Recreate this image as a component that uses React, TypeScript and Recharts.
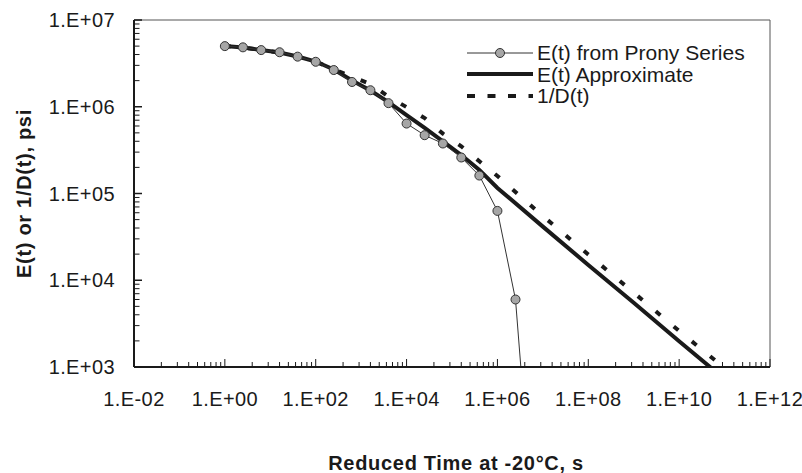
import React from 'react';
import { LineChart, Line, XAxis, YAxis, ReferenceArea, Legend } from 'recharts';

// reduced time (s) and modulus (psi)
const PRONY_T = [1, 2.5, 6.3, 16, 40, 100, 250, 630, 1600, 4000, 1e4, 2.5e4, 6.3e4, 1.6e5, 4e5, 1e6, 2.5e6, 6.3e6];
const PRONY_E = [5.0e6, 4.84e6, 4.5e6, 4.25e6, 3.78e6, 3.3e6, 2.65e6, 1.93e6, 1.55e6, 1.1e6, 6.4e5, 4.7e5, 3.77e5, 2.6e5, 1.61e5, 6.3e4, 6.0e3, 13];

const APPROX_T = [1, 2.5, 6.3, 16, 40, 100, 250, 630, 1600, 4000, 1e4, 2.5e4, 6.3e4, 1.6e5, 4e5, 1e6, 1e7, 1e8, 1e9, 1e10, 5.8e10];
const APPROX_E = [5.01e6, 4.82e6, 4.51e6, 4.22e6, 3.79e6, 3.32e6, 2.69e6, 2.01e6, 1.54e6, 1.13e6, 8.0e5, 5.7e5, 4.0e5, 2.78e5, 1.87e5, 1.16e5, 4.15e4, 1.5e4, 5.5e3, 1.98e3, 920];

const INV_T = [1, 2.5, 6.3, 16, 40, 100, 250, 630, 1600, 4000, 1e4, 2.5e4, 6.3e4, 1.6e5, 4e5, 1e6, 1e7, 1e8, 1e9, 1e10, 6.9e10];
const INV_D = [5.01e6, 4.82e6, 4.51e6, 4.22e6, 3.79e6, 3.32e6, 2.69e6, 2.22e6, 1.83e6, 1.31e6, 9.9e5, 7.4e5, 4.9e5, 3.5e5, 2.35e5, 1.59e5, 5.5e4, 1.98e4, 7.2e3, 2.6e3, 1.14e3];

const X_MAJOR = [1e-2, 1, 1e2, 1e4, 1e6, 1e8, 1e10, 1e12];
const X_MINOR_MULT = [4, 9, 16, 25, 36, 49, 64, 81];
const Y_MAJOR = [1e3, 1e4, 1e5, 1e6, 1e7];
const Y_MINOR_MULT = [2, 3, 4, 5, 6, 7, 8, 9];

const LEGEND_ITEMS = [
  { name: 'E(t) from Prony Series', kind: 'prony' },
  { name: 'E(t) Approximate', kind: 'approx' },
  { name: '1/D(t)', kind: 'inv' },
];

const FONT = '"Liberation Sans", Arial, Helvetica, sans-serif';
const INK = '#1a1a1a';

const prony = PRONY_T.map((t, i) => ({ t, e: PRONY_E[i] }));
const approx = APPROX_T.map((t, i) => ({ t, e: APPROX_E[i] }));
const inv = INV_T.map((t, i) => ({ t, e: INV_D[i] }));

const xTicks = [
  ...X_MAJOR,
  ...X_MAJOR.slice(0, -1).flatMap((b) => X_MINOR_MULT.map((m) => b * m)),
];
const yTicks = [
  ...Y_MAJOR,
  ...Y_MAJOR.slice(0, -1).flatMap((b) => Y_MINOR_MULT.map((m) => b * m)),
];

const isPow10 = (v: number) => {
  const l = Math.log10(v);
  return Math.abs(l - Math.round(l)) < 1e-9;
};

const fmtExp = (v: number) => {
  const e = Math.round(Math.log10(v));
  return `1.E${e < 0 ? '-' : '+'}${String(Math.abs(e)).padStart(2, '0')}`;
};

const XTick = (props: any) => {
  const { x, y, payload } = props;
  const major = isPow10(payload.value);
  return (
    <g>
      <line x1={x} x2={x} y1={y} y2={y - (major ? 8 : 5)} stroke={INK} strokeWidth={1} />
      {major && (
        <text x={x} y={y + 32} textAnchor="middle" dominantBaseline="central" fontSize={20} letterSpacing={0.4} fill={INK} fontFamily={FONT}>
          {fmtExp(payload.value)}
        </text>
      )}
    </g>
  );
};

const YTick = (props: any) => {
  const { x, y, payload } = props;
  const major = isPow10(payload.value);
  return (
    <g>
      <line x1={x} x2={x + (major ? 8 : 5.5)} y1={y} y2={y} stroke={INK} strokeWidth={major ? 1.5 : 1} />
      {major && (
        <text x={x - 19} y={y} textAnchor="end" dominantBaseline="central" fontSize={20} letterSpacing={0.4} fill={INK} fontFamily={FONT}>
          {fmtExp(payload.value)}
        </text>
      )}
    </g>
  );
};

const XTitle = (props: any) => {
  const vb = props.viewBox;
  return (
    <text x={vb.x + vb.width / 2 + 4} y={vb.y + 96} textAnchor="middle" dominantBaseline="central" fontSize={20} letterSpacing={0.7} fontWeight="bold" fill={INK} fontFamily={FONT}>
      Reduced Time at -20°C, s
    </text>
  );
};

const YTitle = (props: any) => {
  const vb = props.viewBox;
  const cy = vb.y + vb.height / 2;
  return (
    <text transform={`translate(24, ${cy}) rotate(-90)`} textAnchor="middle" dominantBaseline="central" fontSize={20} letterSpacing={0.7} fontWeight="bold" fill={INK} fontFamily={FONT}>
      E(t) or 1/D(t), psi
    </text>
  );
};

const LegendIcon = ({ kind }: { kind: string }) => (
  <svg width={66} height={22} style={{ display: 'block', flex: 'none' }}>
    {kind === 'prony' && (
      <>
        <line x1={0} x2={66} y1={11} y2={11} stroke="#333" strokeWidth={1} />
        <circle cx={33} cy={11} r={4.5} fill="#a6a6a6" stroke="#333" strokeWidth={1} />
      </>
    )}
    {kind === 'approx' && <line x1={0} x2={66} y1={11} y2={11} stroke={INK} strokeWidth={4} />}
    {kind === 'inv' && (
      <line x1={0} x2={66} y1={11} y2={11} stroke={INK} strokeWidth={4} strokeDasharray="8 12.5" />
    )}
  </svg>
);

const renderLegend = () => (
  <div style={{ fontFamily: FONT, fontSize: 21, color: INK }}>
    {LEGEND_ITEMS.map((it) => (
      <div key={it.name} style={{ display: 'flex', alignItems: 'center', height: 21.5, lineHeight: '21.5px', whiteSpace: 'nowrap' }}>
        <LegendIcon kind={it.kind} />
        <span style={{ marginLeft: 4 }}>{it.name}</span>
      </div>
    ))}
  </div>
);

export default function App() {
  return (
    <div style={{ position: 'absolute', left: 0, top: 0, width: 802, height: 473, background: '#fff' }}>
      <LineChart width={802} height={473} margin={{ top: 20, right: 32, bottom: 56, left: 14 }}>
        <XAxis
          dataKey="t"
          type="number"
          scale="log"
          domain={[1e-2, 1e12]}
          allowDataOverflow
          ticks={xTicks}
          interval={0}
          tickSize={0}
          tickMargin={0}
          tick={XTick}
          height={50}
          axisLine={{ stroke: INK, strokeWidth: 2 }}
          label={XTitle}
        />
        <YAxis
          type="number"
          scale="log"
          domain={[1e3, 1e7]}
          allowDataOverflow
          ticks={yTicks}
          interval={0}
          tickSize={0}
          tickMargin={0}
          tick={YTick}
          width={120}
          axisLine={{ stroke: INK, strokeWidth: 2 }}
          label={YTitle}
        />
        <ReferenceArea x1={1e-2} x2={1e12} y1={1e3} y2={1e7} fill="none" stroke="#555" strokeWidth={1} />
        <Line
          data={inv}
          dataKey="e"
          name="1/D(t)"
          type="linear"
          stroke={INK}
          strokeWidth={4}
          strokeDasharray="6 17.5"
          dot={false}
          isAnimationActive={false}
        />
        <Line
          data={approx}
          dataKey="e"
          name="E(t) Approximate"
          type="linear"
          stroke={INK}
          strokeWidth={4}
          dot={false}
          isAnimationActive={false}
        />
        <Line
          data={prony}
          dataKey="e"
          name="E(t) from Prony Series"
          type="linear"
          stroke="#333"
          strokeWidth={1}
          dot={{ r: 4.5, fill: '#a6a6a6', stroke: '#333', strokeWidth: 1 }}
          isAnimationActive={false}
        />
        <Legend
          layout="vertical"
          align="center"
          verticalAlign="middle"
          content={renderLegend}
          wrapperStyle={{ left: 467, top: 42, width: 300, height: 66 }}
        />
      </LineChart>
    </div>
  );
}
